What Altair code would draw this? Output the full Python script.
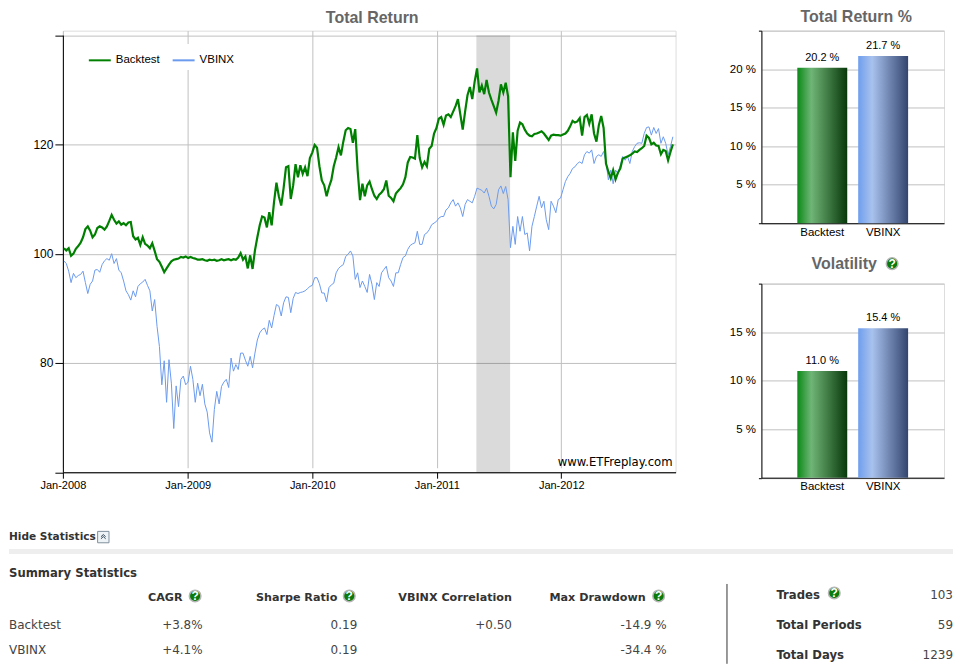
import altair as alt
import pandas as pd

series_names = ["Backtest", "VBINX"]
backtest = [
 101,100.6,101,99.6,100,100.9,101.4,102,103,104.5,105,104.2,103,103.5,104.7,105,104.8,104.4,105,106,107.1,106.2,105.5,105.9,105.3,105.6,
 105.2,105.7,105.8,103.2,102.6,102.9,101.6,103,101.8,101.5,101,101.9,100.5,99,98.5,97.6,96.6,97.3,98,98.6,98.9,99,99.1,99.4,99.3,99.5,
 99.2,99.4,99.2,99.1,98.9,98.9,99,98.8,98.7,98.9,98.8,98.9,98.7,98.8,99,98.8,98.9,99,98.8,99,98.9,99.3,
 100.1,98.9,99.5,97.3,99.7,97.2,100.6,103,105.2,106.8,106.6,104.8,107.6,105.2,109.5,113,110.5,108.8,112,115.8,116,110,112.5,116.4,114,116.2,114.6,115.8,114.2,117.5,
 118.5,119.9,119.4,116,113.4,112.5,110.5,112.2,113.5,116,117.6,119.5,118,120.5,122.6,123,122.8,120.3,122.8,115.3,109.8,112.8,110.5,112.5,113.2,111.8,
 110.6,110,110.8,111.2,111.8,113.4,110.6,110.2,109.6,111,111.5,112,112.7,114,116.7,117.7,117.6,117.4,121.7,117.5,115.8,116.8,116,119.2,119.7,122,
 123,124.7,125,123.6,125.3,125.5,125,126,127,128.3,125.5,122.7,126,129,130.5,128.3,131.5,133.9,129.5,130.8,129.2,131.8,129.5,128.2,127,125.8,128,131,129.5,131.3,128.8,
 114,122.2,117,122.5,124,123.7,122.7,122,121.6,121.5,121.9,122,122.2,122.4,122,121.4,120.8,121.6,121.8,121.7,121.7,121.6,
 121.8,122,122.5,123.3,124.3,124,124.2,124.8,121.6,125,125.4,123.8,125.5,122,120.5,123.5,125.2,123,116.5,115,113.8,115.3,113.6,114.8,115.6,117.4,
 117.6,117.8,118,118.3,118.7,118.6,119,119.3,119.7,121.6,121.2,120,120.3,119.8,119.7,118.2,119,118.8,117.1,118.6,120,
]
vbinx = [
 98.66,98.2,96.8,94.7,96.4,95.6,96,96.2,96.8,94.7,92.7,94.4,95,97,97.1,96.6,98,98.7,99.1,98.8,100,98.2,99.1,97,96.5,95,
 93.2,92.5,91.5,93.2,92.1,94,94.5,94.8,95.3,94.2,93.2,89.5,91.6,86.7,83,76,80.4,72.8,80.6,76.3,68,75.8,72,77,77.6,76,
 76.5,79.4,77,72.8,76.3,74,76.1,72.5,71,67.2,65.5,71.5,74.8,72.5,75.7,76.5,77,75.5,80.9,78.5,79.7,78.8,
 81.8,81.8,80.5,79.4,81.2,79.1,81.8,84.2,85.5,86.1,86.4,85.2,87.8,86.4,88.7,90.7,90.4,88.6,91,92.1,92,89.2,91.8,92.9,92.7,92.9,93,93.2,93.6,94,
 94.2,95.6,95.6,94.5,92.8,92.8,91.2,93.8,94.3,94.6,96.5,97.3,97.7,98,99.5,99.9,100.5,99.6,95.3,96.5,93.8,95,94,92.9,96.2,94.4,
 91.6,94.7,94,96.5,97.1,97.7,95.6,95,94,96.5,96.5,98,99.3,99.6,100.8,101.5,101.8,102,104.1,101.7,101.7,103.5,103.8,104.4,105.3,105.6,
 105.9,106.5,106.8,106.8,108,108.4,109.3,109.9,108.7,109.3,108.4,106.8,109,109.9,109.6,109.3,110.5,112,111.8,111.6,111.1,112,110.5,108.7,108.2,109,111.7,112.4,111,112.3,109.9,
 101.1,105,101.7,106.8,104.1,106.8,103.5,103.8,100.5,105,106.8,108.7,110.5,108.4,109.6,106.2,104.4,109.6,108.7,107.5,109.9,110.2,
 111.7,113.2,114.1,114.7,115.6,115.9,116.5,116.8,116.5,118.1,118.7,118.4,119,116.5,117.8,118.1,117.8,118.7,116.8,113.5,115.3,112.8,115.3,114.7,116.2,117.8,
 117.1,117.8,116.5,118.7,119.6,120.2,120.3,120.2,122,123.1,123.2,121.7,123.1,122,122.9,120.2,121.4,120.2,118.1,119.6,121.4,
]
first_week = "2008-01-04"
shade_start, shade_end = "2011-04-27", "2011-08-04"
year_ticks = [2008, 2009, 2010, 2011, 2012]
y_ticks = [60, 80, 100, 120, 140]

total_return = [20.2, 21.7]
volatility = [11.0, 15.4]
stat_headers = ["CAGR", "Sharpe Ratio", "VBINX Correlation", "Max Drawdown"]
stat_backtest = ["+3.8%", "0.19", "+0.50", "-14.9 %"]
stat_vbinx = ["+4.1%", "0.19", "", "-34.4 %"]
side_labels = ["Trades", "Total Periods", "Total Days"]
side_values = ["103", "59", "1239"]

GREEN, BLUE, GRID = "#008000", "#6b9bee", "#c0c0c0"
LABEL = "Liberation Sans"
TABLE = "DejaVu Sans"
ONE = alt.Data(values=[{}])

def frame(vals, name):
    d = pd.date_range(first_week, periods=len(vals), freq="7D").strftime("%Y-%m-%d")
    return pd.DataFrame({"date": d, "value": vals, "series": name})

x_main = alt.X("date:T", title=None,
    scale=alt.Scale(type="utc", domain=[alt.DateTime(year=2008, month=1, date=1, utc=True),
                                        alt.DateTime(year=2012, month=12, date=1, utc=True)], nice=False),
    axis=alt.Axis(values=[alt.DateTime(year=y, month=1, date=1, utc=True) for y in year_ticks],
                  format="%b-%Y", grid=True, gridColor=GRID, gridOpacity=1, domainColor="black",
                  tickColor="black", tickSize=6, labelFont=LABEL, labelFontSize=11, labelColor="black",
                  labelPadding=1.5, labelFlush=False, labelOverlap=False))
y_main = alt.Y("value:Q", title=None,
    scale=alt.Scale(domain=[60, 140], range=[442.5, 4.5], nice=False, zero=False),
    axis=alt.Axis(values=y_ticks, labelExpr="datum.value==60||datum.value==140?'':datum.label",
                  grid=True, gridColor=GRID, gridOpacity=1, domainColor="black", tickColor="black",
                  tickSize=8, labelFont=LABEL, labelFontSize=12, labelColor="black", labelPadding=2))
color_main = alt.Color("series:N", scale=alt.Scale(domain=series_names, range=[GREEN, BLUE]),
    legend=alt.Legend(orient="none", legendX=21, legendY=13.5, direction="horizontal", title=None,
                      symbolType="stroke", symbolSize=484, symbolStrokeWidth=2, labelFont=LABEL,
                      labelFontSize=11.5, labelColor="black", fillColor="white", padding=4,
                      columnPadding=8, labelOffset=4))

shade = alt.Chart(pd.DataFrame({"date": [shade_start], "end": [shade_end], "value": [60], "top": [140]})).mark_rect(
    color="black", opacity=0.145).encode(x=x_main, x2="end:T", y=y_main, y2="top:Q")
line_v = alt.Chart(frame(vbinx, "VBINX")).mark_line().encode(
    x=x_main, y=y_main, color=color_main, strokeWidth=alt.value(1))
line_b = alt.Chart(frame(backtest, "Backtest")).mark_line().encode(
    x=x_main, y=y_main, color=color_main, strokeWidth=alt.value(2.2))
mark = alt.Chart(ONE).mark_text(align="right", baseline="middle", font=TABLE, fontSize=11.7,
    color="black").encode(x=alt.value(611), y=alt.value(432), text=alt.value("www.ETFreplay.com"))

def help_icon(x, y):
    pt = alt.Chart(ONE).mark_point(shape="circle", filled=True, fill="#0a7a0a", stroke="#b5b5b5",
        strokeWidth=1.5, size=135, opacity=1).encode(x=alt.value(x), y=alt.value(y))
    q = alt.Chart(ONE).mark_text(font=LABEL, fontSize=12, fontWeight="bold", color="white",
        baseline="middle", align="center").encode(x=alt.value(x), y=alt.value(y + 0.5), text=alt.value("?"))
    return [pt, q]

def grad(c0, c1, c2):
    return alt.Gradient(gradient="linear", x1=0, x2=1, y1=0, y2=0,
        stops=[alt.GradientStop(color=c0, offset=0), alt.GradientStop(color=c1, offset=0.28),
               alt.GradientStop(color=c2, offset=1)])

def bar_panel(vals, top, height, ticks, extra=(), title=None):
    df = pd.DataFrame({"name": series_names, "val": vals, "label": [f"{v:.1f} %" for v in vals]})
    x = alt.X("name:N", title=None, sort=series_names,
        scale=alt.Scale(domain=series_names, paddingInner=0.18, paddingOuter=0.59),
        axis=alt.Axis(labelAngle=0, ticks=False, grid=False, domainColor="black", labelFont=LABEL,
                      labelFontSize=11.5, labelColor="black", labelPadding=3))
    y = alt.Y("val:Q", title=None, scale=alt.Scale(domain=[0, top], nice=False),
        axis=alt.Axis(values=ticks,
            labelExpr=f"datum.value==0||datum.value=={top}?'':datum.value+' %'",
            grid=True, gridColor=GRID, gridOpacity=1, domainColor="black", tickSize=3,
            tickColor={"condition": {"test": f"datum.value==0||datum.value=={top}", "value": "black"}, "value": "transparent"},
            labelFont=LABEL, labelFontSize=11.5, labelColor="black", labelPadding=3))
    b1 = alt.Chart(df[df.name == "Backtest"]).mark_bar(
        color=grad("#0a8a16", "#70b577", "#08380a")).encode(x=x, y=y)
    b2 = alt.Chart(df[df.name == "VBINX"]).mark_bar(
        color=grad("#6e9eee", "#a8c2ee", "#33456f")).encode(x=x, y=y)
    t = alt.Chart(df).mark_text(font=LABEL, fontSize=11, color="black", dy=-5, baseline="bottom").encode(x=x, y=y, text="label:N")
    c = alt.layer(b1, b2, t, *extra).properties(width=183, height=height)
    if title:
        c = c.properties(title=title)
    return c

def panel_title(text, dx, offset=5):
    return alt.TitleParams(text, font=LABEL, fontSize=16, fontWeight="bold", color="#666666",
                           anchor="middle", offset=offset, dx=dx)

tr = bar_panel(total_return, 25, 193, [0, 5, 10, 15, 20, 25], title=panel_title("Total Return %", 3.5))
vol_title = alt.Chart(ONE).mark_text(font=LABEL, fontSize=16, fontWeight="bold", color="#666666",
    align="center", baseline="middle").encode(x=alt.value(83), y=alt.value(-19.5), text=alt.value("Volatility"))
vol = bar_panel(volatility, 20, 194.5, [0, 5, 10, 15, 20], extra=[vol_title] + help_icon(131, -20))

# statistics block, laid out in the main panel's frame (its origin is at page 62, 30.5)
OX, OY = 62, 30.5
def cell(text, px, py, align="right", bold=False, size=None, color=None):
    return alt.Chart(ONE).mark_text(
        align=align, baseline="middle", font=TABLE, fontWeight="bold" if bold else "normal",
        fontSize=size or (11.2 if bold else 12), color=color or ("#333333" if bold else "#444444")
    ).encode(x=alt.value(px - OX), y=alt.value(py + 1 - OY), text=alt.value(text))

layers = []
layers.append(alt.Chart(ONE).mark_rect(color="#eeeeee").encode(
    x=alt.value(8 - OX), x2=alt.value(954 - OX), y=alt.value(550 - OY), y2=alt.value(555 - OY)))
layers.append(alt.Chart(ONE).mark_rule(color="#333333", strokeWidth=1).encode(
    x=alt.value(727.5 - OX), y=alt.value(585 - OY), y2=alt.value(665 - OY)))
layers.append(cell("Hide Statistics", 8, 537, "left", True, 10.6))
layers.append(alt.Chart(ONE).mark_point(shape="square", filled=True, fill="#eef3f7", stroke="#7f8f9c",
    strokeWidth=1, size=130, opacity=1).encode(x=alt.value(102.5 - OX), y=alt.value(538 - OY)))
layers.append(alt.Chart(ONE).mark_point(
    shape="M-0.7,0.05L0,-0.6L0.7,0.05M-0.7,0.65L0,0L0.7,0.65", filled=False, stroke="#334455", strokeWidth=1,
    size=45, opacity=1).encode(x=alt.value(102.5 - OX), y=alt.value(537.5 - OY)))
layers.append(cell("Summary Statistics", 8, 573, "left", True, 11.7))

header_right = [182, 337, 512, 646]
value_right = [202, 357, 512, 667]
icon_x = [194.5, 349, None, 659]
for h, hx, vx, ix, a, b in zip(stat_headers, header_right, value_right, icon_x, stat_backtest, stat_vbinx):
    layers.append(cell(h, hx, 598, bold=True))
    if ix is not None:
        layers += help_icon(ix - OX, 597 - OY)
    layers.append(cell(a, vx, 625))
    if b:
        layers.append(cell(b, vx, 650))
layers.append(cell(series_names[0], 8, 625, "left"))
layers.append(cell(series_names[1], 8, 650, "left"))
for lab, val, py in zip(side_labels, side_values, [595, 625, 655]):
    layers.append(cell(lab, 777, py, "left", True, 11.7))
    layers.append(cell(val, 954, py))
layers += help_icon(835 - OX, 594 - OY)

main = alt.layer(shade, line_v, line_b, mark, *layers).properties(
    width=614, height=442.5, title=panel_title("Total Return", 3))

right = alt.vconcat(tr, vol, spacing=60.5, bounds="flush")
chart = alt.hconcat(main, right, spacing=86, bounds="flush", padding=0).configure_view(stroke=None).configure(background="white")
chart.save("out.html", embed_options={"renderer": "svg", "actions": False})
